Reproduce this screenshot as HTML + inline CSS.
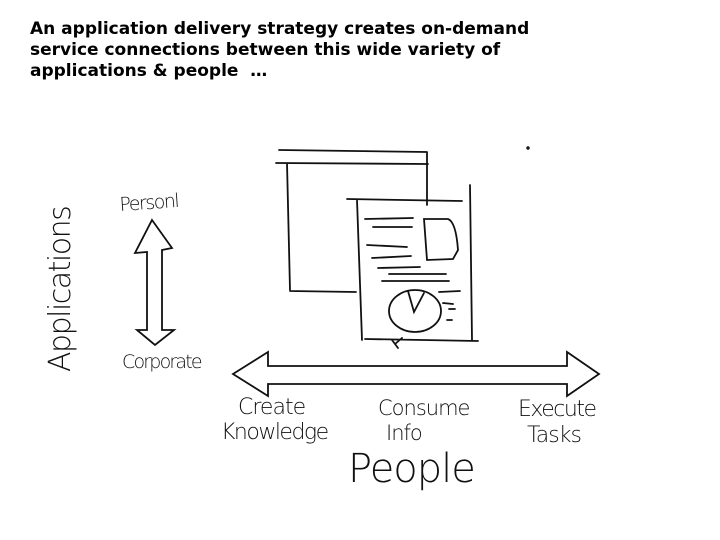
<!DOCTYPE html>
<html><head><style>
body{margin:0;width:720px;height:540px;background:#fff;overflow:hidden;position:relative;font-family:"Liberation Sans",sans-serif}
.t{position:absolute;left:30px;top:19px;font-family:"DejaVu Sans",sans-serif;font-weight:bold;font-size:17px;line-height:21px;color:#000}
svg{position:absolute;left:0;top:0}
</style></head><body>
<div class="t">An application delivery strategy creates on-demand<br>service connections between this wide variety of<br>applications &amp; people &nbsp;…</div>
<svg width="720" height="540" viewBox="0 0 720 540" fill="none" stroke="#111" stroke-width="1.8" stroke-linecap="round">
<path d="M279 150 L427 152 M276 163 L428 164 M287 163 L290 290 M427 152 L427 205 M290 291 L356 292"/>
<path d="M347 199 L462 201 M357 200 L362 340 M470 185 L472 340 M365 339 L478 341 M392 340 L398 348 M395 344 L402 338"/>
<path d="M365 219 L413 218 M373 227 L412 227 M367 245 L407 247 M372 258 L411 256 M378 268 L420 267 M389 274 L446 274 M382 281 L449 281 M439 292 L460 291 M443 303 L453 304 M449 309 L455 309 M447 320 L452 320"/>
<path d="M424 219 L448 219 Q456 222 458 250 L453 259 L427 260 Z"/>
<ellipse cx="415" cy="311" rx="26" ry="21"/>
<path d="M408 291 L414 312 L424 293"/>
<path d="M268 366 L567 366 L567 352 L599 374 L567 396 L567 384 L268 384 L268 396 L233 374 L268 352 Z"/>
<path d="M152 220 L172 248 L162 250 L162 330 L174 330 L155 345 L137 330 L147 330 L147 252 L135 253 Z"/>
<circle cx="528" cy="148" r="0.8" fill="#111"/>
<g fill="#111" stroke="none" font-family="DejaVu Sans, sans-serif" font-weight="200">
<text x="120" y="211" font-size="19" transform="rotate(-4 120 211)" letter-spacing="-1.5">Personl</text>
<text x="122" y="368" font-size="19" letter-spacing="-1.8">Corporate</text>
<text x="70" y="372" font-size="30" transform="rotate(-90 70 372)" letter-spacing="-1.5">Applications</text>
<text x="238" y="414" font-size="22" letter-spacing="-1">Create</text>
<text x="221" y="439" font-size="22" letter-spacing="-1.5">Knowledge</text>
<text x="378" y="415" font-size="21" letter-spacing="-1">Consume</text>
<text x="386" y="440" font-size="21" letter-spacing="-1">Info</text>
<text x="518" y="416" font-size="22" letter-spacing="-1.5">Execute</text>
<text x="527" y="442" font-size="22" letter-spacing="-1">Tasks</text>
<text x="348" y="482" font-size="40" letter-spacing="-1">People</text>
</g>
</svg>
</body></html>
